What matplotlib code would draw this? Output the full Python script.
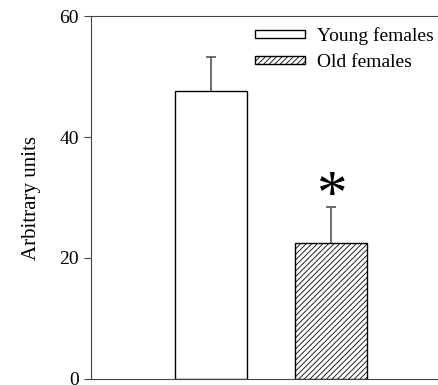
import matplotlib
matplotlib.use('Agg')
import matplotlib.pyplot as plt
from matplotlib.patches import Patch

plt.rcParams['font.family'] = ['Liberation Serif', 'DejaVu Serif']
plt.rcParams['hatch.linewidth'] = 0.6

groups = ['Young females', 'Old females']
means = [47.6, 22.5]
errs = [5.6, 5.9]
hatches = ['', '//////']
positions = [1, 2]

fig = plt.figure(figsize=(4.39, 3.85), dpi=100)
ax = fig.add_axes([0.207, 0.016, 0.82, 0.942])

for x, m, e, h, name in zip(positions, means, errs, hatches, groups):
    eb = ax.errorbar(x, m, yerr=[[0], [e]], color='#555555', elinewidth=1.2,
                     capsize=3.6, capthick=1.2, zorder=1)
    eb[1][0].set_visible(False)  # no lower cap
    ax.bar(x, m, width=0.6, facecolor='white', edgecolor='black',
           linewidth=1.0, hatch=h, label=name, zorder=2)

# significance mark
ax.text(positions[1], 30.0, '*', ha='center', va='center', fontsize=44)

ax.set_xlim(0, 3)
ax.set_ylim(0, 60)
ax.set_yticks([0, 20, 40, 60])
ax.set_xticks([])
for s in ax.spines.values():
    s.set_color('#444444')
ax.tick_params(axis='y', direction='out', length=5, labelsize=14,
               color='#444444')
ax.set_ylabel('Arbitrary units', fontsize=15, labelpad=13)

handles = [Patch(facecolor='white', edgecolor='black', hatch=h, label=g)
           for g, h in zip(groups, hatches)]
ax.legend(handles=handles, loc='upper left', bbox_to_anchor=(0.456, 0.97),
          frameon=False, fontsize=14, handlelength=2.58, handleheight=0.28,
          handletextpad=0.62, labelspacing=0.45, borderaxespad=0, borderpad=0)

fig.savefig('out.png', dpi=100)
